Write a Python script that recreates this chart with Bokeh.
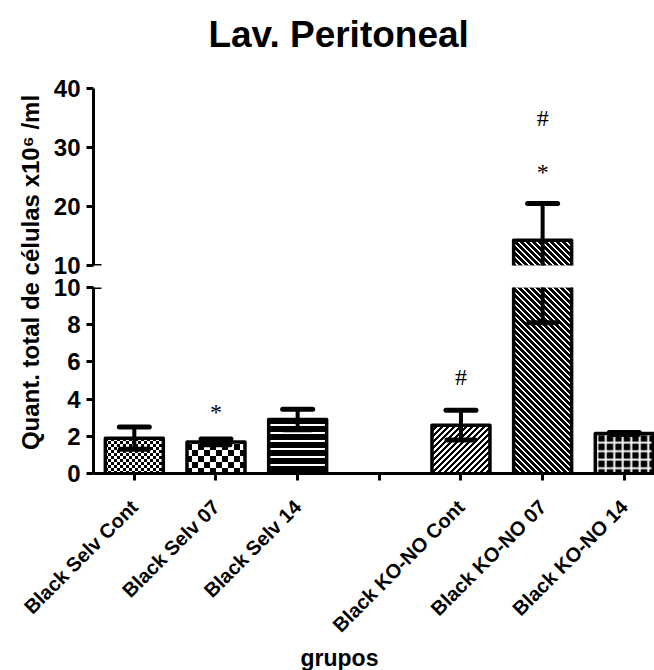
import math, zlib, struct, base64
from bokeh.plotting import figure
from bokeh.layouts import row, column
from bokeh.models import ColumnDataSource, Range1d, FixedTicker, ImageURLTexture
from bokeh.core.properties import value
from bokeh.embed import file_html
from bokeh.resources import INLINE

# ---------------- data ----------------
groups = ["Black Selv Cont", "Black Selv 07", "Black Selv 14",
          "Black KO-NO Cont", "Black KO-NO 07", "Black KO-NO 14"]
slots = [0, 1, 2, 4, 5, 6]          # slot 3 is an empty gap on the axis
means = [1.9, 1.7, 2.9, 2.6, 14.3, 2.15]
errors = [0.6, 0.15, 0.55, 0.8, 6.2, 0.05]

sig_slots = [1, 4, 5, 5]
sig_values = [3.3, 5.2, 25.9, 35.0]
sig_marks = ["*", "#", "*", "#"]

lower_ticks = [0, 2, 4, 6, 8, 10]
upper_ticks = [10, 20, 30, 40]
axis_break = 10
upper_top = 40
all_slots = [0, 1, 2, 3, 4, 5, 6]

title_text = "Lav. Peritoneal"
x_title = "grupos"
y_title = "Quant. total de células x10\u2076 /ml"

# ---------------- styles ----------------
patterns = ["chk_fine", "chk_coarse", "horizontal_line",
            "diag_up", "diag_down", "cross"]
hatch_scales = [6, 12, 8, 6, 6, 8.5]
hatch_weights = [1, 1, 2, 1, 1, 2]
FONT = "Liberation Sans"
BAR_W = 0.71
X_START, X_END = -0.5, 6.37
FRAME_LEFT, FRAME_W = 93, 561          # pixels
PX_PER_SLOT = FRAME_W / (X_END - X_START)


def png_url(n, white):
    rows = []
    for j in range(n):
        r = bytearray()
        for i in range(n):
            r += bytes([255, 255, 255]) if white(i, j) else bytes([0, 0, 0])
        rows.append(b"\x00" + bytes(r))
    raw = b"".join(rows)

    def chunk(t, d):
        return struct.pack(">I", len(d)) + t + d + struct.pack(">I", zlib.crc32(t + d) & 0xffffffff)

    png = (b"\x89PNG\r\n\x1a\n"
           + chunk(b"IHDR", struct.pack(">IIBBBBB", n, n, 8, 2, 0, 0, 0))
           + chunk(b"IDAT", zlib.compress(raw))
           + chunk(b"IEND", b""))
    return "data:image/png;base64," + base64.b64encode(png).decode()


hatch_extra = {
    "chk_fine": ImageURLTexture(url=png_url(6, lambda i, j: ((i // 3) + (j // 3)) % 2 == 0)),
    "chk_coarse": ImageURLTexture(url=png_url(12, lambda i, j: ((i // 6) + (j // 6)) % 2 == 0)),
    "diag_up": ImageURLTexture(url=png_url(6, lambda i, j: (i + j) % 6 < 3)),
    "diag_down": ImageURLTexture(url=png_url(6, lambda i, j: (i - j) % 6 < 2)),
}


def make_source(keep):
    idx = [i for i in range(len(means)) if keep(means[i])]
    h = BAR_W / 2
    return ColumnDataSource(dict(
        x=[slots[i] for i in idx],
        top=[means[i] for i in idx],
        lower=[means[i] - errors[i] for i in idx],
        upper=[means[i] + errors[i] for i in idx],
        pattern=[patterns[i] for i in idx],
        scale=[hatch_scales[i] for i in idx],
        weight=[hatch_weights[i] for i in idx],
        xs=[[slots[i] - h, slots[i] - h, slots[i] + h, slots[i] + h] for i in idx],
        ys=[[0, means[i], means[i], 0] for i in idx],
    ))


x_range = Range1d(X_START, X_END)


def blank(p):
    p.grid.visible = False
    p.outline_line_color = None
    p.background_fill_color = "white"
    p.border_fill_color = "white"


def style_y(ax, ticks):
    ax.ticker = FixedTicker(ticks=ticks)
    ax.axis_line_width = 3
    ax.axis_line_color = "black"
    ax.major_tick_line_width = 3
    ax.major_tick_line_color = "black"
    ax.major_tick_out = 7
    ax.major_tick_in = 0
    ax.minor_tick_line_color = None
    ax.major_label_text_font = FONT
    ax.major_label_text_font_style = "bold"
    ax.major_label_text_font_size = "24px"
    ax.major_label_text_color = "black"
    ax.major_label_standoff = 6


def draw(p, src, lo, hi):
    p.vbar(x="x", top="top", bottom=0, width=BAR_W, source=src,
           fill_color="black", line_color=None,
           hatch_pattern="pattern", hatch_color="white", hatch_scale="scale",
           hatch_weight="weight", hatch_extra=hatch_extra)
    p.multi_line(xs="xs", ys="ys", source=src, line_color="black", line_width=3.5,
                 line_join="round")
    p.segment(x0="x", y0="lower", x1="x", y1="upper", source=src,
              line_color="black", line_width=4)
    p.scatter(x="x", y="upper", source=src, marker="dash", size=30,
              line_color="black", line_width=5, line_cap="round")
    p.scatter(x="x", y="lower", source=src, marker="dash", size=28,
              line_color="black", line_width=5, line_cap="round")
    # axis-break mark (half clipped by the frame, so only its right half shows)
    p.scatter(x=[X_START], y=[axis_break], marker="dash", size=16,
              line_color="black", line_width=3)
    idx = [i for i, v in enumerate(sig_values) if lo <= v <= hi]
    p.text(x=[sig_slots[i] for i in idx], y=[sig_values[i] for i in idx],
           text=[sig_marks[i] for i in idx],
           text_font=value("Liberation Serif"), text_font_size="24px",
           text_align="center", text_baseline="middle", text_color="black")
    blank(p)


# ---------------- title strip ----------------
title_fig = figure(width=654, height=60, x_range=Range1d(0, 1), y_range=Range1d(0, 1),
                   output_backend="svg", toolbar_location=None,
                   x_axis_type=None, y_axis_type=None,
                   min_border_left=0, min_border_right=0, min_border_top=0, min_border_bottom=0)
title_fig.text(x=[0.517], y=[0.44], text=[title_text],
               text_font=value(FONT), text_font_style="bold", text_font_size="37px",
               text_align="center", text_baseline="middle", text_color="black")
blank(title_fig)

# ---------------- upper segment ----------------
upper = figure(width=606, height=216, x_range=x_range, y_range=Range1d(axis_break, upper_top),
               output_backend="svg", toolbar_location=None,
               min_border_left=45, min_border_right=0, min_border_top=28, min_border_bottom=11)
draw(upper, make_source(lambda m: m > axis_break), axis_break, upper_top)
upper.xaxis.visible = False
style_y(upper.yaxis[0], upper_ticks)

# ---------------- lower segment ----------------
lower = figure(width=606, height=211, x_range=x_range, y_range=Range1d(0, axis_break),
               output_backend="svg", toolbar_location=None,
               min_border_left=45, min_border_right=0, min_border_top=11, min_border_bottom=14)
draw(lower, make_source(lambda m: True), 0, axis_break)
style_y(lower.yaxis[0], lower_ticks)
xa = lower.xaxis[0]
xa.ticker = FixedTicker(ticks=all_slots)
xa.major_label_overrides = {s: "" for s in all_slots}
xa.major_label_text_font_size = "0px"
xa.major_label_standoff = 0
xa.axis_line_width = 3
xa.axis_line_color = "black"
xa.major_tick_line_width = 3
xa.major_tick_line_color = "black"
xa.major_tick_out = 7
xa.major_tick_in = 0
xa.minor_tick_line_color = None

# ---------------- category labels + x title (full width, same slot scale) ----------------
cat_range = Range1d(X_START - FRAME_LEFT / PX_PER_SLOT, X_END)
cat = figure(width=654, height=183, x_range=cat_range, y_range=Range1d(0, 1),
             output_backend="svg", toolbar_location=None,
             x_axis_type=None, y_axis_type=None,
             min_border_left=0, min_border_right=0, min_border_top=0, min_border_bottom=0)
cat.text(x=slots, y=[0.9126] * len(slots), text=groups, angle=math.pi / 4,
         text_font=value(FONT), text_font_style="bold", text_font_size="20px",
         text_align="right", text_baseline="middle", text_color="black")
cat.text(x=[2.512], y=[0.0656], text=[x_title],
         text_font=value(FONT), text_font_style="bold", text_font_size="23px",
         text_align="center", text_baseline="middle", text_color="black")
blank(cat)

# ---------------- y-axis title spanning both segments ----------------
lab = figure(width=48, height=427, x_range=Range1d(0, 1), y_range=Range1d(0, 1),
             output_backend="svg", toolbar_location=None,
             x_axis_type=None, y_axis_type=None,
             min_border_left=0, min_border_right=0, min_border_top=0, min_border_bottom=0)
lab.text(x=[0.615], y=[0.5035], text=[y_title], angle=math.pi / 2,
         text_font=value(FONT), text_font_style="bold", text_font_size="24px",
         text_align="center", text_baseline="middle", text_color="black")
blank(lab)

layout = column(title_fig, row(lab, column(upper, lower)), cat)
open("out.html", "w").write(file_html(layout, INLINE))
